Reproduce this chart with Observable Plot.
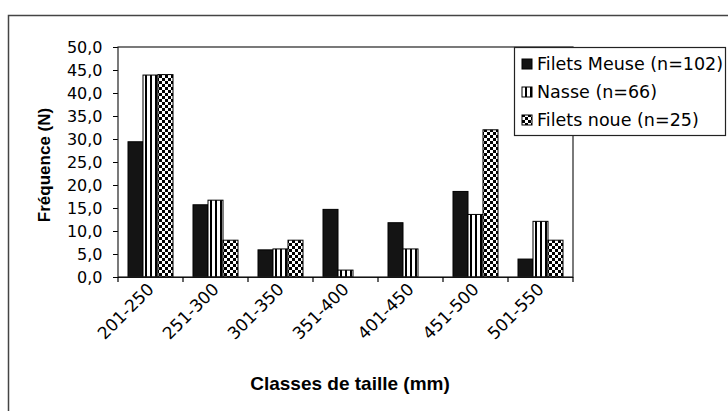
<!DOCTYPE html>
<html>
<head>
<meta charset="utf-8">
<script src="https://cdn.jsdelivr.net/npm/d3@7"></script>
<script src="https://cdn.jsdelivr.net/npm/@observablehq/plot@0.6"></script>
<style>
  html, body { margin: 0; padding: 0; background: #fff; }
</style>
</head>
<body>
<div id="chart"></div>
<script>
// ---- data ----
const categories = ["201-250", "251-300", "301-350", "351-400", "401-450", "451-500", "501-550"];
const series = ["Filets Meuse (n=102)", "Nasse (n=66)", "Filets noue (n=25)"];
const meuse = [29.4, 15.7, 5.9, 14.7, 11.8, 18.6, 3.9];
const nasse = [43.9, 16.7, 6.1, 1.5, 6.1, 13.6, 12.1];
const noue  = [44.0, 8.0, 8.0, 0, 0, 32.0, 8.0];
const yTicks = [0, 5, 10, 15, 20, 25, 30, 35, 40, 45, 50];
const yTitle = "Fréquence (N)";
const xTitle = "Classes de taille (mm)";

const values = [meuse, nasse, noue];
const data = categories.flatMap((c, i) => series.map((s, j) => ({c, s, v: values[j][i]})));

const fmt = d => d.toFixed(1).replace(".", ",");

const plot = Plot.plot({
  width: 728,
  height: 411,
  marginLeft: 118,
  marginRight: 155,
  marginTop: 47,
  marginBottom: 134,
  style: {fontFamily: "DejaVu Sans", fontSize: "16px", background: "#fff", color: "#000"},
  fx: {domain: categories, padding: 0, label: null, axis: "bottom", tickSize: 0, tickRotate: -45, tickPadding: 9},
  x: {domain: series, axis: null, paddingInner: 0, paddingOuter: 0.57},
  y: {domain: [0, 50], ticks: yTicks, tickFormat: fmt, tickSize: 5, tickPadding: 11, label: null},
  color: {domain: series, range: ["#141414", "url(#pat-nasse)", "url(#pat-noue)"]},
  marks: [
    Plot.barY(data.filter(d => d.v > 0), {fx: "c", x: "s", y: "v", fill: "s", stroke: "#000", strokeWidth: 1}),
    Plot.ruleY([0], {stroke: "#000", strokeWidth: 1.2})
  ]
});

document.getElementById("chart").appendChild(plot);

const svg = d3.select(plot);
svg.selectAll('[aria-label^="fx-axis"] text').attr("font-size", 17);

const defs = svg.insert("defs", ":first-child");
const pn = defs.append("pattern").attr("id", "pat-nasse").attr("patternUnits", "userSpaceOnUse")
  .attr("width", 5).attr("height", 5);
pn.append("rect").attr("width", 5).attr("height", 5).attr("fill", "#fff");
pn.append("rect").attr("width", 2).attr("height", 5).attr("fill", "#000");
const pc = defs.append("pattern").attr("id", "pat-noue").attr("patternUnits", "userSpaceOnUse")
  .attr("width", 6).attr("height", 6);
pc.append("rect").attr("width", 6).attr("height", 6).attr("fill", "#fff");
pc.append("rect").attr("width", 3).attr("height", 3).attr("fill", "#000");
pc.append("rect").attr("x", 3).attr("y", 3).attr("width", 3).attr("height", 3).attr("fill", "#000");

const fxs = plot.scale("fx");
const ys = plot.scale("y");
const x0 = fxs.range[0], x1 = fxs.range[1];
const yTop = ys.apply(50), yBase = ys.apply(0);

// plot area border
svg.append("rect").attr("x", x0).attr("y", yTop).attr("width", x1 - x0).attr("height", yBase - yTop)
  .attr("fill", "none").attr("stroke", "#222").attr("stroke-width", 1.2);

// category boundary ticks
const bounds = categories.map(c => fxs.apply(c)).concat([fxs.apply(categories[categories.length - 1]) + fxs.bandwidth]);
svg.append("g").selectAll("line").data(bounds).join("line")
  .attr("x1", d => d).attr("x2", d => d).attr("y1", yBase).attr("y2", yBase + 5)
  .attr("stroke", "#000").attr("stroke-width", 1.2);

// axis titles
svg.append("text").text(xTitle)
  .attr("x", 350).attr("y", 383).attr("text-anchor", "middle").attr("dominant-baseline", "central")
  .attr("font-family", "Liberation Sans, Arial, sans-serif").attr("font-weight", "bold").attr("font-size", 19);
svg.append("text").text(yTitle)
  .attr("transform", "translate(44,165) rotate(-90)").attr("text-anchor", "middle").attr("dominant-baseline", "central")
  .attr("font-family", "Liberation Sans, Arial, sans-serif").attr("font-weight", "bold").attr("font-size", 17);

// legend
const colors = plot.scale("color");
const lg = svg.append("g").attr("text-anchor", "start");
lg.append("rect").attr("x", 514.5).attr("y", 47.5).attr("width", 211).attr("height", 88)
  .attr("fill", "#fff").attr("stroke", "#222").attr("stroke-width", 1.2);
series.forEach((s, i) => {
  const cy = 64 + i * 28;
  lg.append("rect").attr("x", 522).attr("y", cy - 5).attr("width", 10).attr("height", 10)
    .attr("fill", colors.apply(s)).attr("stroke", "#000").attr("stroke-width", 1);
  lg.append("text").text(s).attr("x", 537).attr("y", cy).attr("dominant-baseline", "central")
    .attr("text-anchor", "start")
    .attr("font-family", "DejaVu Sans").attr("font-size", 17.5);
});

// outer chart frame
svg.append("rect").attr("x", 8.5).attr("y", 15.5).attr("width", 800).attr("height", 500)
  .attr("fill", "none").attr("stroke", "#444").attr("stroke-width", 1.5);
</script>
</body>
</html>
